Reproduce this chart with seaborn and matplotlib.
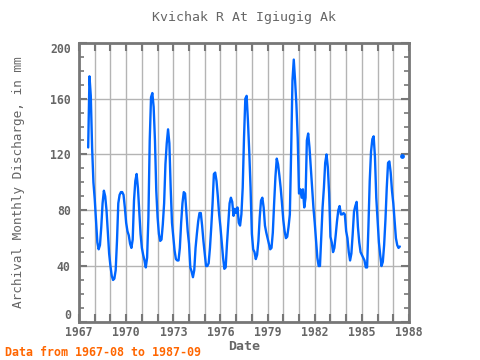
import numpy as np
import pandas as pd
import matplotlib
matplotlib.use("Agg")
import matplotlib.pyplot as plt
import matplotlib.ticker as mticker
import seaborn as sns

# ---- data (monthly discharge, mm) ----
start_year = 1967
start_month = 8
q1967 = [125, 176, 162, 125, 100]
q1968 = [88, 72, 57, 52, 55, 68, 85, 94, 90, 80, 64, 49]
q1969 = [40, 33, 30, 31, 37, 58, 85, 91, 93, 93, 91, 82]
q1970 = [71, 65, 62, 56, 53, 59, 87, 101, 106, 96, 80, 63]
q1971 = [53, 48, 44, 39, 46, 75, 130, 161, 164, 154, 130, 94]
q1972 = [75, 63, 58, 59, 70, 85, 113, 128, 138, 128, 96, 71]
q1973 = [61, 51, 45, 44, 44, 53, 71, 85, 93, 92, 79, 65]
q1974 = [56, 39, 36, 32, 37, 53, 63, 72, 78, 78, 69, 58]
q1975 = [49, 40, 40, 42, 53, 68, 85, 106, 107, 101, 90, 77]
q1976 = [68, 57, 46, 38, 39, 56, 71, 85, 89, 86, 76, 81]
q1977 = [78, 82, 71, 69, 77, 96, 132, 160, 162, 144, 122, 96]
q1978 = [63, 52, 50, 45, 48, 58, 75, 87, 89, 82, 69, 64]
q1979 = [60, 56, 52, 53, 64, 85, 104, 117, 113, 105, 96, 85]
q1980 = [73, 65, 60, 61, 68, 77, 122, 173, 188, 173, 156, 132]
q1981 = [92, 95, 89, 95, 82, 89, 130, 135, 125, 111, 96, 82]
q1982 = [71, 58, 46, 40, 40, 61, 82, 96, 114, 120, 111, 92]
q1983 = [61, 57, 50, 53, 62, 72, 80, 83, 77, 77, 78, 77]
q1984 = [65, 60, 50, 44, 49, 63, 79, 83, 86, 68, 57, 50]
q1985 = [48, 46, 44, 39, 39, 68, 101, 122, 131, 133, 118, 89]
q1986 = [73, 57, 48, 40, 43, 55, 73, 96, 114, 115, 107, 94]
q1987 = [85, 73, 60, 55, 53, 54, np.nan, 119, np.nan]

title = "Kvichak R At Igiugig Ak"
ylabel = "Archival Monthly Discharge, in mm"
xlabel = "Date"
note = "Data from 1967-08 to 1987-09"
xticks = list(range(1967, 1989, 1))
yticks = list(range(0, 201, 40))

values = np.array(q1967 + q1968 + q1969 + q1970 + q1971 + q1972 + q1973 + q1974
                  + q1975 + q1976 + q1977 + q1978 + q1979 + q1980 + q1981 + q1982
                  + q1983 + q1984 + q1985 + q1986 + q1987, dtype=float)
idx = np.arange(len(values))
t = start_year + (start_month - 1 + idx) / 12.0
# segments separated by missing months
seg = np.cumsum(np.isnan(values))
df = pd.DataFrame({"t": t, "q": values, "seg": seg}).dropna()
counts = df.groupby("seg")["q"].transform("size")
df_line = df[counts > 1]
df_pt = df[counts == 1]

sns.set_style("white")
plt.rcParams["font.family"] = ["DejaVu Sans Mono", "DejaVu Sans"]

fig = plt.figure(figsize=(4.8, 3.6), dpi=100)
ax = fig.add_axes([0.1646, 0.106, 0.6875, 0.775])

blue = "#0066ff"
grey = "#777777"
sns.lineplot(data=df_line, x="t", y="q", units="seg", estimator=None,
             color=blue, linewidth=1.7, ax=ax, sort=True)
sns.scatterplot(data=df_pt, x="t", y="q", color=blue, s=12, linewidth=0, ax=ax, zorder=3)

ax.set_xlim(1967, 1988)
ax.set_ylim(0, 200)
ax.xaxis.set_major_locator(mticker.FixedLocator(xticks))
ax.xaxis.set_major_formatter(mticker.FuncFormatter(
    lambda v, p: f"{int(round(v))}" if int(round(v) - 1967) % 3 == 0 else ""))
ax.yaxis.set_major_locator(mticker.FixedLocator(yticks))
ax.yaxis.set_minor_locator(mticker.MultipleLocator(10))

ax.grid(True, which="major", color="#b4b4b4", linewidth=1.0)
ax.set_axisbelow(True)
for s in ax.spines.values():
    s.set_visible(True)
    s.set_color(grey)
    s.set_linewidth(2)

ax.tick_params(axis="both", which="major", direction="in", length=6, width=1.5,
               color=grey, top=True, right=True, bottom=True, left=True,
               labelcolor="#666666", labelsize=8.3)
ax.tick_params(axis="y", which="minor", direction="in", length=3.5, width=1.2,
               color=grey, left=True, right=True)
ax.tick_params(axis="x", which="major", pad=3)
ax.tick_params(axis="y", which="major", pad=6)
fig.canvas.draw()
for lab in ax.get_xticklabels() + ax.get_yticklabels():
    lab.set_fontweight("bold")
ylabs = ax.get_yticklabels()
ylabs[0].set_verticalalignment("bottom")
ylabs[-1].set_verticalalignment("top")

ax.set_xlabel(xlabel, fontsize=9.5, fontweight="bold", color="#666666", labelpad=1)
ax.set_ylabel(ylabel, fontsize=9.2, color="#666666", labelpad=18)
fig.text(0.5 * (0.1646 + 0.852), 0.952, title, ha="center", va="center",
         fontsize=9.5, color="#666666")
fig.text(0.01, 0.022, note, ha="left", va="center", fontsize=8.4,
         fontweight="bold", color="#ff6600")

fig.savefig("out.png", dpi=100)
